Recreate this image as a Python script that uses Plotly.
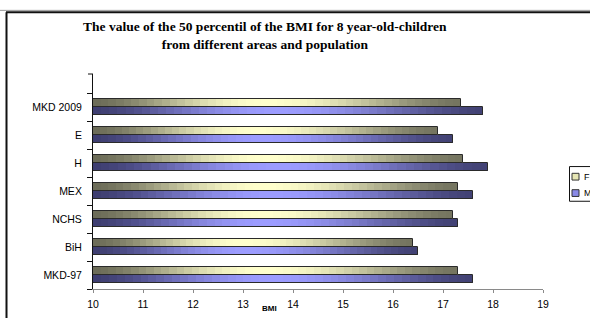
import math
import plotly.graph_objects as go

# BMI 50th percentile for 8-year-old children, by area / population
categories = ["MKD-97", "BiH", "NCHS", "MEX", "H", "E", "MKD 2009"]
f_values = [17.3, 16.4, 17.2, 17.3, 17.4, 16.9, 17.35]
m_values = [17.6, 16.5, 17.3, 17.6, 17.9, 17.2, 17.8]
series_names = ["F", "M"]
x_ticks = list(range(10, 20))

X0 = 10          # axis start (bars start here)
N_SEG = 48       # gradient slices per bar
BAR_W = 0.29     # bar thickness in category units

# plot-area geometry in pixels (used to place frame/legend shapes)
W, H = 590, 322
L, R, T, B = 93, 47, 74, 25
PW, PH = W - L - R, H - T - B


def px_x(px):
    return (px - L) / PW


def px_y(py):
    return (H - B - py) / PH


def mix(c1, c2, s):
    return "rgb(%d,%d,%d)" % tuple(round(a + (b - a) * s) for a, b in zip(c1, c2))


def shade(t, dark_l, light, dark_r, centre=0.47):
    if t <= centre:
        s = math.sin(math.pi / 2 * t / centre) ** 1.6
        return mix(dark_l, light, s)
    s = math.sin(math.pi / 2 * (1 - t) / (1 - centre)) ** 1.6
    return mix(dark_r, light, s)


palettes = {
    "F": ((108, 108, 88), (255, 255, 204), (116, 116, 96)),
    "M": ((62, 62, 112), (156, 156, 255), (66, 66, 116)),
}

fig = go.Figure()


def gradient_bar(values, name, offset):
    ys, bases, widths, colors = [], [], [], []
    for cat, v in zip(categories, values):
        length = v - X0
        step = length / N_SEG
        for i in range(N_SEG):
            base = X0 + step * i
            ys.append(cat)
            bases.append(base)
            widths.append(min(step * 1.6, v - base))
            colors.append(shade((i + 0.5) / N_SEG, *palettes[name]))
    fig.add_trace(go.Bar(
        y=ys, x=widths, base=bases, orientation="h",
        offset=offset, width=BAR_W,
        marker=dict(color=colors, line=dict(width=0)),
        name=name, showlegend=False, hoverinfo="skip",
    ))
    # outline of each full bar
    fig.add_trace(go.Bar(
        y=categories, x=[v - X0 for v in values], base=[X0] * len(values),
        orientation="h", offset=offset, width=BAR_W,
        marker=dict(color="rgba(0,0,0,0)", line=dict(color="#2a2a2a", width=1)),
        name=name, showlegend=False,
        hovertemplate="%{y}: %{customdata}<extra>" + name + "</extra>",
        customdata=values,
    ))


gradient_bar(m_values, "M", -BAR_W)
gradient_bar(f_values, "F", 0.0)

shapes = [
    # outer frame
    dict(type="line", xref="paper", yref="paper", x0=px_x(0), x1=px_x(W + 5),
         y0=px_y(8), y1=px_y(8), line=dict(color="#9a9a9a", width=1)),
    dict(type="line", xref="paper", yref="paper", x0=px_x(6), x1=px_x(W + 5),
         y0=px_y(10), y1=px_y(10), line=dict(color="#111", width=2)),
    dict(type="line", xref="paper", yref="paper", x0=px_x(6.5), x1=px_x(6.5),
         y0=px_y(10), y1=px_y(H + 5), line=dict(color="#111", width=2)),
    # top tick of the value axis
    dict(type="line", xref="paper", yref="paper", x0=px_x(88), x1=px_x(93),
         y0=1, y1=1, line=dict(color="#111", width=1)),
    # legend box and swatches
    dict(type="rect", xref="paper", yref="paper", x0=px_x(569.5), x1=px_x(W + 10),
         y0=px_y(206), y1=px_y(170), line=dict(color="#111", width=1),
         fillcolor="white"),
    dict(type="rect", xref="paper", yref="paper", x0=px_x(572), x1=px_x(579),
         y0=px_y(184), y1=px_y(177), line=dict(color="#333", width=1),
         fillcolor="#e6e6b4"),
    dict(type="rect", xref="paper", yref="paper", x0=px_x(572), x1=px_x(579),
         y0=px_y(201), y1=px_y(194), line=dict(color="#333", width=1),
         fillcolor="#8a8ae6"),
]

annotations = [
    dict(text="<b>The value of the 50 percentil of the BMI for 8 year-old-children</b><br>"
              "<b>from different areas and population</b>",
         xref="paper", yref="paper", x=px_x(265), y=px_y(34.5),
         showarrow=False, xanchor="center", yanchor="middle", align="center",
         font=dict(family="Liberation Serif", size=13.5, color="black")),
    dict(text="<b>BMI</b>", xref="paper", yref="paper", x=px_x(269), y=px_y(317),
         showarrow=False, font=dict(family="Liberation Sans", size=8, color="black"),
         xanchor="center", yanchor="middle"),
    dict(text=series_names[0], xref="paper", yref="paper", x=px_x(582), y=px_y(180.5),
         showarrow=False, font=dict(family="Liberation Sans", size=9, color="black"),
         xanchor="left", yanchor="middle"),
    dict(text=series_names[1], xref="paper", yref="paper", x=px_x(582), y=px_y(197.5),
         showarrow=False, font=dict(family="Liberation Sans", size=9, color="black"),
         xanchor="left", yanchor="middle"),
]

fig.update_layout(
    width=W, height=H,
    margin=dict(l=L, r=R, t=T, b=B, pad=0),
    paper_bgcolor="white", plot_bgcolor="white",
    barmode="overlay", bargap=0,
    showlegend=False,
    font=dict(family="Liberation Sans", size=10, color="black"),
    xaxis=dict(
        range=[10, 19], tickvals=x_ticks, showgrid=False, zeroline=False,
        showline=True, linecolor="#8a8a8a", linewidth=1,
        ticks="outside", ticklen=3, tickcolor="#8a8a8a",
        tickfont=dict(size=10.5), ticklabelstandoff=2,
    ),
    yaxis=dict(
        type="category", categoryorder="array", categoryarray=categories,
        range=[-0.5, 6.5 + 20 / 29], showgrid=False, zeroline=False,
        showline=True, linecolor="#111", linewidth=1,
        ticks="outside", ticklen=5, tickcolor="#111", tickson="boundaries",
        tickfont=dict(size=10.5), ticklabelstandoff=8,
    ),
    shapes=shapes,
    annotations=annotations,
)

fig.write_html("out.html")
